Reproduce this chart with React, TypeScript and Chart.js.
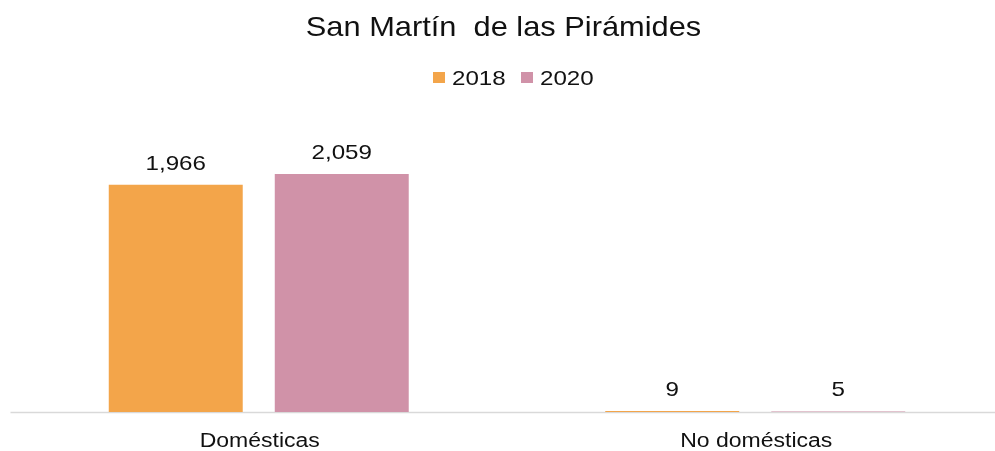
import React, { useEffect, useRef } from "react";
import { Chart, registerables } from "chart.js";

Chart.register(...registerables);

const categories = ["Domésticas", "No domésticas"];
const seriesNames = ["2018", "2020"];
const values2018 = [1966, 9];
const values2020 = [2059, 5];
const colors = ["#F3A54A", "#D092A8"];
const titleText = "San Martín  de las Pirámides";

const FONT = '"Liberation Sans", Arial, sans-serif';
const TEXT = "#111111";
const SX = 1.15;

function drawText(ctx: CanvasRenderingContext2D, text: string, x: number, y: number, size: number, align: CanvasTextAlign, sx = SX) {
  ctx.save();
  ctx.translate(x, y);
  ctx.scale(sx, 1);
  ctx.font = `${size}px ${FONT}`;
  ctx.fillStyle = TEXT;
  ctx.textAlign = align;
  ctx.textBaseline = "alphabetic";
  ctx.fillText(text, 0, 0);
  ctx.restore();
}

const decor = {
  id: "decor",
  beforeDatasetsDraw(chart: any) {
    const { ctx, chartArea } = chart;
    ctx.save();
    ctx.strokeStyle = "#D9D9D9";
    ctx.lineWidth = 1.5;
    ctx.beginPath();
    ctx.moveTo(chartArea.left, chartArea.bottom + 0.5);
    ctx.lineTo(chart.width, chartArea.bottom + 0.5);
    ctx.stroke();
    ctx.restore();
  },
  afterDatasetsDraw(chart: any) {
    const { ctx, chartArea } = chart;
    // title
    drawText(ctx, titleText, 503.5, 36, 28, "center", 1.1);
    // legend
    const legendItems = [
      { x: 433, tx: 452 },
      { x: 521, tx: 540 },
    ];
    seriesNames.forEach((name, i) => {
      ctx.save();
      ctx.fillStyle = colors[i];
      ctx.fillRect(legendItems[i].x, 72, 12, 11);
      ctx.restore();
      drawText(ctx, name, legendItems[i].tx, 85, 21, "left");
    });
    // data labels
    chart.data.datasets.forEach((ds: any, di: number) => {
      const meta = chart.getDatasetMeta(di);
      meta.data.forEach((bar: any, i: number) => {
        const v = ds.data[i];
        drawText(ctx, v.toLocaleString("en-US"), bar.x, bar.y - 15, 21, "center");
      });
    });
    // category labels
    const xs = chart.scales.x;
    categories.forEach((c, i) => {
      drawText(ctx, c, xs.getPixelForValue(i) + 1, chartArea.bottom + 35, 20, "center");
    });
  },
};

export default function App() {
  const ref = useRef<HTMLCanvasElement>(null);
  useEffect(() => {
    if (!ref.current) return;
    const chart = new Chart(ref.current, {
      type: "bar",
      data: {
        labels: categories,
        datasets: [
          { label: seriesNames[0], data: values2018, backgroundColor: colors[0] },
          { label: seriesNames[1], data: values2020, backgroundColor: colors[1] },
        ],
      },
      options: {
        responsive: false,
        animation: false,
        devicePixelRatio: 1,
        layout: { padding: { left: 10.5, right: 0.5, top: 123, bottom: 39 } },
        datasets: { bar: { categoryPercentage: 0.6687, barPercentage: 0.807 } },
        plugins: { legend: { display: false }, title: { display: false }, tooltip: { enabled: false } },
        scales: {
          x: { display: false },
          y: { display: false, min: 0, max: 2500 },
        },
      },
      plugins: [decor],
    });
    return () => chart.destroy();
  }, []);
  return (
    <div style={{ position: "fixed", left: 0, top: 0, width: 995, height: 451, overflow: "hidden", background: "#fff" }}>
      <canvas ref={ref} width={1004} height={451} style={{ display: "block", width: 1004, height: 451 }} />
    </div>
  );
}
